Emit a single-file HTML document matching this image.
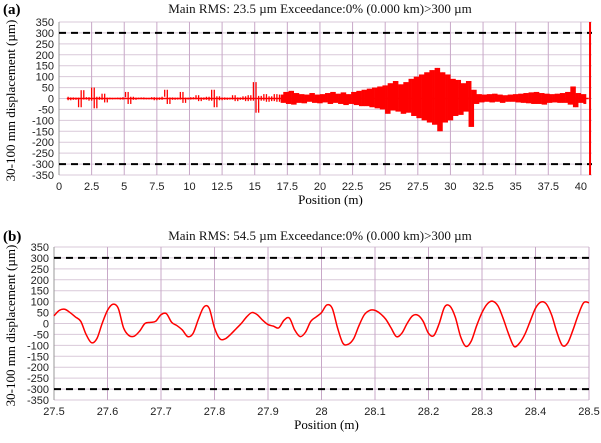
<!DOCTYPE html>
<html><head><meta charset="utf-8"><style>
body{margin:0;background:#fff;width:601px;height:438px;overflow:hidden}
svg text{font-family:"Liberation Sans",sans-serif}
.ser{font-family:"Liberation Serif",serif}
</style></head><body>
<svg id="c" width="601" height="438"></svg>
<script>
const topValues=[8,-8,5,-6,4,-40,38,-5,6,-10,
50,-45,8,-6,22,-18,4,-4,3,-3,
4,-5,6,30,-25,8,-6,4,-3,5,
-4,3,-4,6,-8,5,-6,8,40,-25,
5,-6,4,-5,30,-20,4,-5,6,-4,
15,-12,5,-6,8,-10,40,-40,10,-8,
5,-6,4,-5,15,-12,5,-6,10,-12,
15,-10,75,-65,12,-10,20,-15,10,-12,
20,-15,18,-20,30,-25,35,-28,25,-20,
20,-22,18,-15,25,-20,18,-22,20,-18,
25,-25,30,-20,22,-25,28,-30,20,-25,
30,-30,35,-35,40,-35,45,-40,50,-45,
55,-50,60,-70,70,-55,80,-60,65,-70,
75,-65,90,-80,100,-90,110,-100,120,-110,
130,-120,140,-150,120,-110,110,-100,90,-80,
85,-75,70,-60,80,-130,40,-25,20,-18,
18,-15,20,-18,22,-15,18,-20,15,-15,
18,-15,20,-18,22,-20,25,-22,28,-25,
30,-25,25,-28,22,-20,20,-18,22,-20,
25,-20,30,-28,55,-40,25,-20,20,-25];
const topStart=0.6, topStep=0.2;
const spikeX=[40.7], spikeHi=[350], spikeLo=[-350];
const topXTicks=["0","2.5","5","7.5","10","12.5","15","17.5","20","22.5","25","27.5","30","32.5","35","37.5","40"];
const botValues=[35,60,65,50,30,10,-50,-88,-70,0,
60,88,70,-20,-55,-58,-35,0,5,10,
40,45,5,-10,-30,-60,-45,20,75,70,
-20,-70,-70,-50,-25,0,30,50,40,15,
-5,-12,-20,15,25,-30,-60,-40,10,30,
50,85,70,-20,-90,-95,-70,-10,40,60,
60,45,20,-20,-60,-45,0,35,38,10,
-45,-55,0,75,80,30,-60,-105,-80,-10,
50,90,102,80,20,-50,-105,-90,-50,10,
70,98,90,40,-40,-100,-90,-30,40,95,95];
const botStart=27.5, botStep=0.01;
const botXTicks=["27.5","27.6","27.7","27.8","27.9","28","28.1","28.2","28.3","28.4","28.5"];
const yTicks=[350,300,250,200,150,100,50,0,-50,-100,-150,-200,-250,-300,-350];
const limits=[300,-300];

const svg=document.getElementById('c');
const NS='http://www.w3.org/2000/svg';
function mk(t,a,p){const e=document.createElementNS(NS,t);for(const k in a)e.setAttribute(k,a[k]);(p||svg).appendChild(e);return e;}

function panel(o){
  const g=mk('g',{});
  
  
  const sx=v=>o.x0+(v-o.xmin)/(o.xmax-o.xmin)*(o.x1-o.x0);
  const sy=v=>o.y0+(350-v)/700*(o.y1-o.y0);
  yTicks.forEach(v=>{
    const l=mk('line',{x1:o.x0,x2:o.x1,y1:sy(v),y2:sy(v),stroke:'#d9c9d9','stroke-width':1},g);
    
    const t=mk('text',{x:o.x0-5,y:sy(v)+4,'text-anchor':'end','font-size':11,fill:'#222'},g);
    t.textContent=v;
  });
  o.xt.forEach(s=>{
    const v=parseFloat(s);
    const l=mk('line',{x1:sx(v),x2:sx(v),y1:o.y0,y2:o.y1,stroke:'#c8a8c8','stroke-width':1},g);
    
    const t=mk('text',{x:sx(v),y:o.y1+15,'text-anchor':'middle','font-size':11,fill:'#222'},g);
    t.textContent=s;
  });
  const ax=mk('line',{x1:o.x0,x2:o.x0,y1:o.y0,y2:o.y1,stroke:'#999'},g);
  
  limits.forEach(v=>{
    const l=mk('line',{x1:o.x0,x2:o.x1,y1:sy(v),y2:sy(v),stroke:'#000','stroke-width':2,'stroke-dasharray':'7,5'},g);
    
  });
  o.draw(g,sx,sy);
  const ti=mk('text',{x:o.tx,y:o.ty,'text-anchor':'middle','font-size':13,class:'ser',fill:'#111'},g);
  ti.textContent=o.title;
  const lb=mk('text',{x:3,y:o.ty+1,'font-size':15,'font-weight':'bold',class:'ser'},g);
  lb.textContent=o.label;
  const xt=mk('text',{x:(o.x0+o.x1)/2+5,y:o.y1+29,'text-anchor':'middle','font-size':13,class:'ser'},g);
  xt.textContent='Position (m)';
  const cy=(o.y0+o.y1)/2+2;
  const yt=mk('text',{x:0,y:0,'text-anchor':'middle','font-size':13,class:'ser',transform:`translate(15,${cy}) rotate(-90)`},g);
  yt.textContent='30-100 mm displacement (µm)';
}

panel({name:'panel-a',x0:59,x1:592,y0:22,y1:175,xmin:0,xmax:40.85,xt:topXTicks,
 title:'Main RMS: 23.5 µm Exceedance:0% (0.000 km)>300 µm',label:'(a)',tx:320,ty:13,
 draw:(g,sx,sy)=>{
  const base=mk('line',{x1:sx(topStart),x2:sx(40.6),y1:sy(0),y2:sy(0),stroke:'#f00','stroke-width':1.5},g);
  
  for(let i=0;i<topValues.length-1;i++){
    const pos=topStart+i*topStep;
    const xa=sx(pos), xb=sx(pos+topStep);
    const x=(xa+xb)/2;
    const w=pos>17?xb-xa+0.3:1.3;
    const b=mk('line',{x1:x,x2:x,y1:sy(topValues[i]),y2:sy(topValues[i+1]),stroke:'#f00','stroke-width':w},g);
    
  }
  spikeX.forEach((x,i)=>{
    const l=mk('line',{x1:sx(x),x2:sx(x),y1:sy(spikeHi[i]),y2:sy(spikeLo[i]),stroke:'#f00','stroke-width':2},g);
    
  });
 }});

panel({name:'panel-b',x0:54,x1:589,y0:247,y1:400,xmin:27.5,xmax:28.5,xt:botXTicks,
 title:'Main RMS: 54.5 µm Exceedance:0% (0.000 km)>300 µm',label:'(b)',tx:320,ty:240,
 draw:(g,sx,sy)=>{
  const P=botValues.map((v,i)=>[sx(botStart+i*botStep),sy(v)]);
  let d='M'+P[0][0]+','+P[0][1];
  for(let i=0;i<P.length-1;i++){
    const p0=P[Math.max(0,i-1)],p1=P[i],p2=P[i+1],p3=P[Math.min(P.length-1,i+2)];
    d+=` C${p1[0]+(p2[0]-p0[0])/6},${p1[1]+(p2[1]-p0[1])/6} ${p2[0]-(p3[0]-p1[0])/6},${p2[1]-(p3[1]-p1[1])/6} ${p2[0]},${p2[1]}`;
  }
  const p=mk('path',{d:d,fill:'none',stroke:'#f00','stroke-width':1.5},g);
  
 }});
</script>
</body></html>
